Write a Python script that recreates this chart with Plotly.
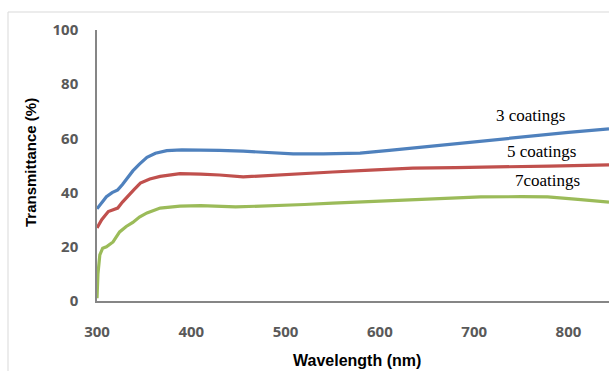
import plotly.graph_objects as go

# Wavelength samples (nm) and transmittance (%)
wl_3 = [300, 305, 310, 316, 322, 327, 333, 338, 345, 353, 362, 374, 390, 410, 430, 455, 480, 508, 540, 579, 610, 650, 700, 750, 800, 843]
t_3 = [34.0, 36.5, 38.5, 40.0, 41.0, 43.0, 46.0, 48.0, 50.5, 53.0, 54.5, 55.5, 55.8, 55.8, 55.6, 55.3, 54.8, 54.3, 54.3, 54.6, 55.6, 57.0, 58.8, 60.5, 62.2, 63.5]

wl_5 = [300, 305, 312, 316, 322, 327, 332, 339, 346, 356, 367, 388, 410, 430, 455, 480, 510, 550, 590, 635, 680, 733, 780, 843]
t_5 = [27.0, 30.0, 33.0, 33.6, 34.3, 36.5, 38.5, 41.0, 43.5, 45.0, 46.0, 47.0, 46.8, 46.5, 45.8, 46.2, 46.8, 47.6, 48.3, 49.0, 49.2, 49.4, 49.8, 50.2]

wl_7 = [300, 301, 303, 306, 310, 317, 324, 331, 338, 345, 353, 360, 367, 388, 410, 447, 480, 520, 550, 600, 650, 707, 750, 778, 810, 843]
t_7 = [1.0, 10.0, 17.0, 19.5, 20.0, 21.8, 25.5, 27.5, 29.0, 31.0, 32.5, 33.5, 34.3, 35.0, 35.2, 34.7, 35.0, 35.6, 36.1, 36.8, 37.5, 38.4, 38.5, 38.4, 37.5, 36.5]

series_names = ["3 coatings", "5 coatings", "7coatings"]
series_colors = ["#4F81BD", "#C0504D", "#9BBB59"]
label_x = [760, 771, 778]
label_y = [68.6, 55.0, 44.3]

y_ticks = [0, 20, 40, 60, 80, 100]
x_ticks = [300, 400, 500, 600, 700, 800]

fig = go.Figure()
for wl, t, name, col in zip([wl_3, wl_5, wl_7], [t_3, t_5, t_7], series_names, series_colors):
    fig.add_trace(go.Scatter(x=wl, y=t, mode="lines", name=name,
                             line=dict(color=col, width=3.2), showlegend=False))

for name, lx, ly in zip(series_names, label_x, label_y):
    fig.add_annotation(x=lx, y=ly, text=name, showarrow=False,
                       xanchor="center", yanchor="middle",
                       font=dict(family="Liberation Serif", size=17, color="#000000"))

L, T, B = 97, 30, 70
W, H = 609, 371
pw, ph = W - L, H - T - B

# light outer chart-area border
fig.add_shape(type="rect", xref="paper", yref="paper",
              x0=(8 - L) / pw, x1=1.3, y0=-0.5, y1=(H - B - 12) / ph,
              line=dict(color="#D9D9D9", width=1), fillcolor="rgba(0,0,0,0)", layer="below")

fig.add_annotation(xref="paper", yref="paper", x=(357 - L) / pw, y=(H - B - 360) / ph,
                   xanchor="center", yanchor="middle",
                   text="<b>Wavelength (nm)</b>", showarrow=False,
                   font=dict(family="Liberation Sans", size=16, color="#000000"))
fig.add_annotation(xref="paper", yref="paper", x=(30 - L) / pw, y=(H - B - 163) / ph,
                   xanchor="center", yanchor="middle",
                   text="<b>Transmittance (%)</b>", showarrow=False, textangle=-90,
                   font=dict(family="Liberation Sans", size=15, color="#000000"))

tickfont = dict(family="Open Sans", size=15, color="#595959", weight="bold")
fig.update_layout(
    width=W, height=H,
    margin=dict(l=L, r=0, t=T, b=B),
    paper_bgcolor="white", plot_bgcolor="white",
    xaxis=dict(range=[300, 843], tickvals=x_ticks, showgrid=False, zeroline=False,
               showline=True, linecolor="#868686", linewidth=1.5,
               ticks="outside", ticklen=16, tickcolor="rgba(0,0,0,0)",
               tickfont=tickfont),
    yaxis=dict(range=[0, 100], tickvals=y_ticks, showgrid=False, zeroline=False,
               showline=True, linecolor="#868686", linewidth=1.5,
               ticks="outside", ticklen=14, tickcolor="rgba(0,0,0,0)",
               tickfont=tickfont),
)

fig.write_html("out.html")
